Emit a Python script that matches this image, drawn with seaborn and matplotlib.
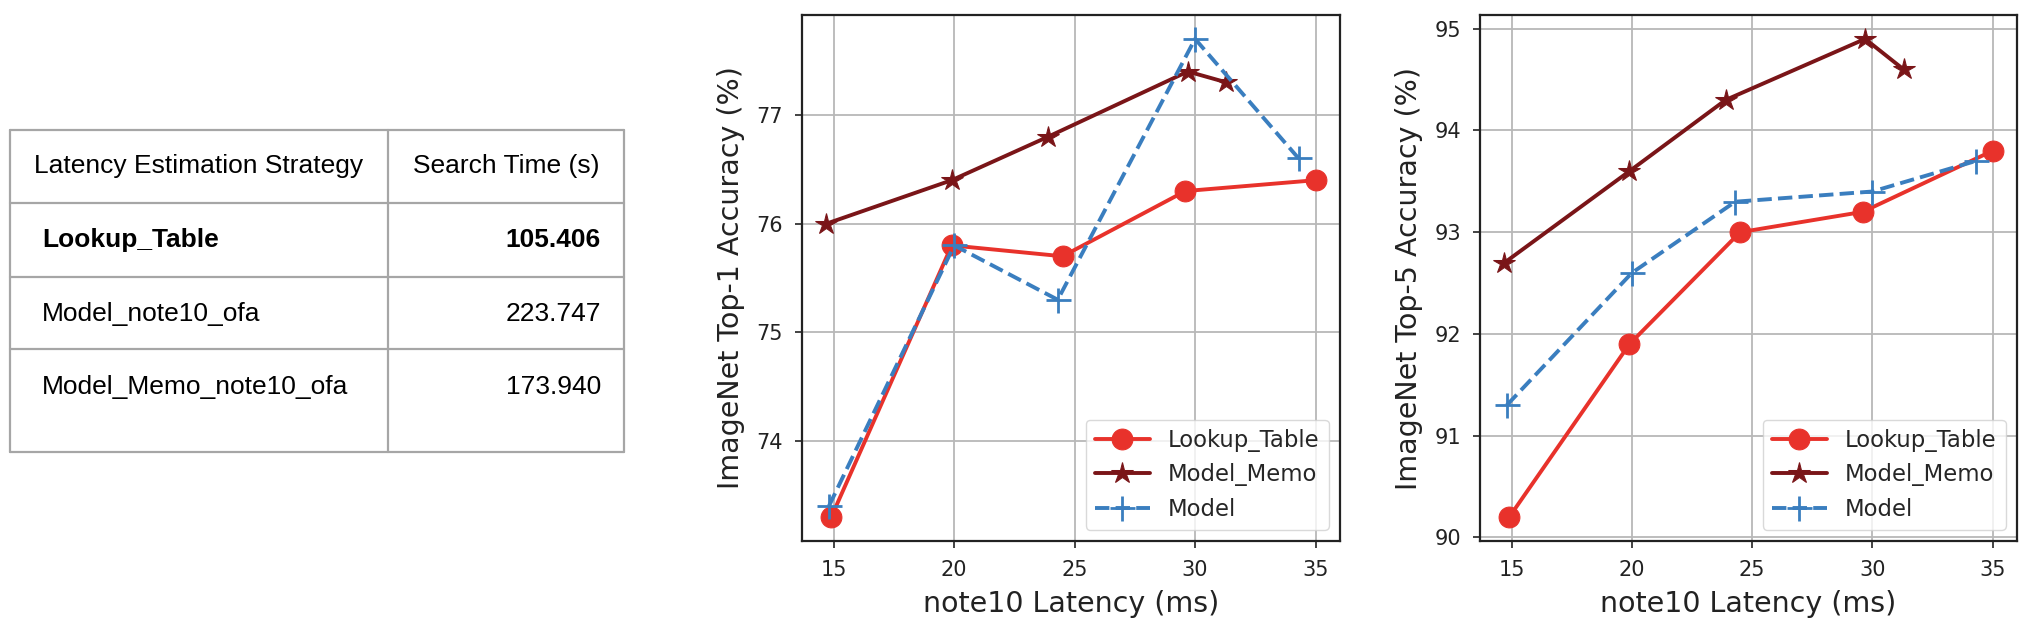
import pandas as pd
import seaborn as sns
import matplotlib.pyplot as plt
from matplotlib.ticker import MultipleLocator

# tabla de tiempos de búsqueda
strategies = ['Lookup_Table', 'Model_note10_ofa', 'Model_Memo_note10_ofa']
search_times = ['105.406', '223.747', '173.940']
header = ['Latency Estimation Strategy', 'Search Time (s)']

# latencias (ms) de cada serie
lookup_lat = [14.9, 19.9, 24.5, 29.6, 35.0]
memo_lat = [14.7, 19.9, 23.9, 29.7, 31.3]
model_lat = [14.8, 20.0, 24.3, 30.0, 34.3]

# precisión top-1 (%)
lookup_top1 = [73.3, 75.8, 75.7, 76.3, 76.4]
memo_top1 = [76.0, 76.4, 76.8, 77.4, 77.3]
model_top1 = [73.4, 75.8, 75.3, 77.7, 76.6]

# precisión top-5 (%)
lookup_top5 = [90.2, 91.9, 93.0, 93.2, 93.8]
memo_top5 = [92.7, 93.6, 94.3, 94.9, 94.6]
model_top5 = [91.3, 92.6, 93.3, 93.4, 93.7]

sns.set_style('ticks')
plt.rcParams['font.family'] = ['DejaVu Sans']

W, H = 2032, 636
fig = plt.figure(figsize=(W / 100, H / 100), dpi=100)

# --- tabla a la izquierda (coordenadas en píxeles) ---
axt = fig.add_axes([0, 0, 1, 1])
axt.set_xlim(0, W)
axt.set_ylim(H, 0)
axt.axis('off')
row_lines = [130, 203, 277, 349, 452]
col_lines = [10, 388, 624]
border = dict(color='#a6a6a6', lw=1.6)
for y in row_lines:
    axt.plot([col_lines[0], col_lines[-1]], [y, y], **border)
for x in col_lines:
    axt.plot([x, x], [row_lines[0], row_lines[-1]], **border)

tfont = dict(family='Liberation Sans', fontsize=19, color='black')
axt.text(199, 166.5, header[0], ha='center', va='center', **tfont)
axt.text(506, 166.5, header[1], ha='center', va='center', **tfont)
text_y = [240, 314, 387]
for i, (s, t) in enumerate(zip(strategies, search_times)):
    w = 'bold' if i == 0 else 'normal'
    axt.text(42, text_y[i], s, ha='left', va='center', fontweight=w, **tfont)
    axt.text(601, text_y[i], t, ha='right', va='center', fontweight=w, **tfont)

# --- gráficas ---
c_lookup = '#e8322b'
c_memo = '#7a1518'
c_model = '#3a7ebf'

ax1 = fig.add_axes([802 / W, 1 - 541 / H, 538 / W, 526 / H])
ax2 = fig.add_axes([1480 / W, 1 - 541 / H, 537 / W, 526 / H])

panels = [(ax1, lookup_top1, memo_top1, model_top1, 'ImageNet Top-1 Accuracy (%)'),
          (ax2, lookup_top5, memo_top5, model_top5, 'ImageNet Top-5 Accuracy (%)')]

for ax, lk, mm, md, ylabel in panels:
    ax.grid(True, color='#b8b8b8', lw=1.3, zorder=0)
    ax.set_axisbelow(True)
    sns.lineplot(x=lookup_lat, y=lk, ax=ax, color=c_lookup, marker='o',
                 markersize=15, markeredgecolor=c_lookup, lw=2.8,
                 sort=False, label='Lookup_Table')
    sns.lineplot(x=memo_lat, y=mm, ax=ax, color=c_memo, marker='*',
                 markersize=16, markeredgecolor=c_memo, lw=2.8,
                 sort=False, label='Model_Memo')
    sns.lineplot(x=model_lat, y=md, ax=ax, color=c_model, marker='+',
                 markersize=18, markeredgecolor=c_model, markeredgewidth=2,
                 lw=2.8, linestyle='--', sort=False, label='Model')
    ax.xaxis.set_major_locator(MultipleLocator(5))
    ax.yaxis.set_major_locator(MultipleLocator(1))
    ax.tick_params(labelsize=15, length=4.8, width=1.2, pad=9, colors='#222222')
    for sp in ax.spines.values():
        sp.set_color('#222222')
        sp.set_linewidth(1.6)
    ax.set_xlabel('note10 Latency (ms)', fontsize=20.5, color='#222222', labelpad=7)
    ax.set_ylabel(ylabel, fontsize=20.5, color='#222222', labelpad=8)
    leg = ax.legend(loc='lower right', fontsize=16.4, frameon=True, handlelength=2.4)
    leg.get_frame().set_edgecolor('#d0d0d0')

fig.savefig('out.png', dpi=100)
